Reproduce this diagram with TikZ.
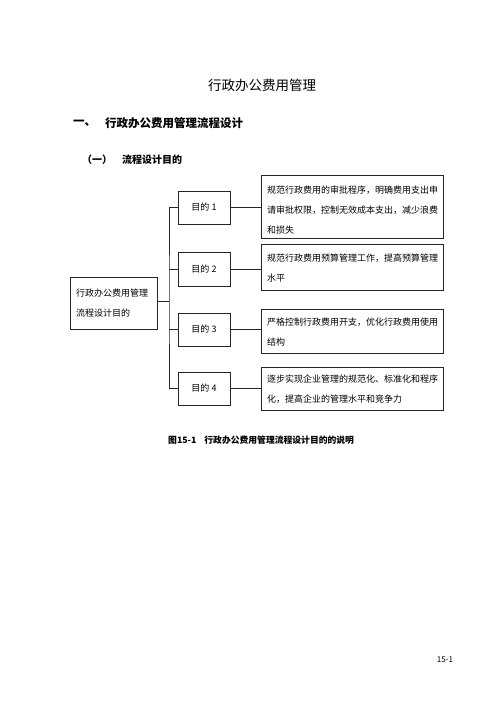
\documentclass[tikz,border=0pt]{standalone}
\usepackage{fontspec}
\newfontfamily\cjk{Noto Sans CJK SC}
\begin{document}
\begin{tikzpicture}[x=1pt,y=-1pt,
  every node/.style={font=\cjk\fontsize{9}{20}\selectfont, inner sep=0pt},
  box/.style={draw=black!85, line width=0.6pt, rectangle},
  line/.style={draw=black!85, line width=0.6pt},
  para/.style={anchor=north west, align=left, text width=180pt}]
\useasboundingbox (0,0) rectangle (501,710);
% headings
\node (title) at (262,85) {\fontsize{13.5}{16}\selectfont 行政办公费用管理};
\node[anchor=west] (h1n) at (73,123) {\fontsize{11.5}{14}\selectfont\bfseries 一、};
\node[anchor=west] (h1) at (105,123) {\fontsize{11.5}{14}\selectfont\bfseries 行政办公费用管理流程设计};
\node[anchor=west] (h2n) at (82,160) {\fontsize{10}{12}\selectfont\bfseries （一）};
\node[anchor=west] (h2) at (122,160) {\fontsize{10}{12}\selectfont\bfseries 流程设计目的};
% left box
\node[box, minimum width=87pt, minimum height=52pt] (L) at (113.5,303) {};
\node[anchor=west, align=left] (Lt) at (76,303) {行政办公费用管理\\流程设计目的};
% goal boxes
\node[box, minimum width=52pt, minimum height=33pt] (g1) at (204,207.5) {目的 1};
\node[box, minimum width=52pt, minimum height=34pt] (g2) at (204,269) {目的 2};
\node[box, minimum width=52pt, minimum height=33pt] (g3) at (204,329.5) {目的 3};
\node[box, minimum width=52pt, minimum height=33pt] (g4) at (204,388.5) {目的 4};
% right boxes
\node[box, minimum width=182pt, minimum height=63pt] (r1) at (352,206.5) {};
\node[anchor=west, align=left] (r1t) at (267,210) {规范行政费用的审批程序，明确费用支出申\\请审批权限，控制无效成本支出，减少浪费\\和损失};
\node[box, minimum width=182pt, minimum height=46pt] (r2) at (352,267) {};
\node[anchor=west, align=left] (r2t) at (267,268) {规范行政费用预算管理工作，提高预算管理\\水平};
\node[box, minimum width=182pt, minimum height=44pt] (r3) at (352,331) {};
\node[anchor=west, align=left] (r3t) at (267,332) {严格控制行政费用开支，优化行政费用使用\\结构};
\node[box, minimum width=182pt, minimum height=43pt] (r4) at (352,388.5) {};
\node[anchor=west, align=left] (r4t) at (267,389) {逐步实现企业管理的规范化、标准化和程序\\化，提高企业的管理水平和竞争力};
% connectors
\coordinate (j) at (169,301);
\draw[line] (L.east |- j) -- (j);
\draw[line] (g1.west) -| (j) |- (g4.west);
\draw[line] (j |- g2.west) -- (g2.west);
\draw[line] (j |- g3.west) -- (g3.west);
\draw[line] (g1.east) -- (r1.west |- g1.east);
\draw[line] (g2.east) -- (r2.west |- g2.east);
\draw[line] (g3.east) -- (r3.west |- g3.east);
\draw[line] (g4.east) -- (r4.west |- g4.east);
% caption
\node[anchor=west] (cap) at (168,440) {\fontsize{8.8}{10}\selectfont\bfseries 图15-1\hspace{8pt}行政办公费用管理流程设计目的的说明};
\node (pg) at (445,660) {\fontsize{8}{10}\selectfont 15-1};
\end{tikzpicture}
\end{document}
